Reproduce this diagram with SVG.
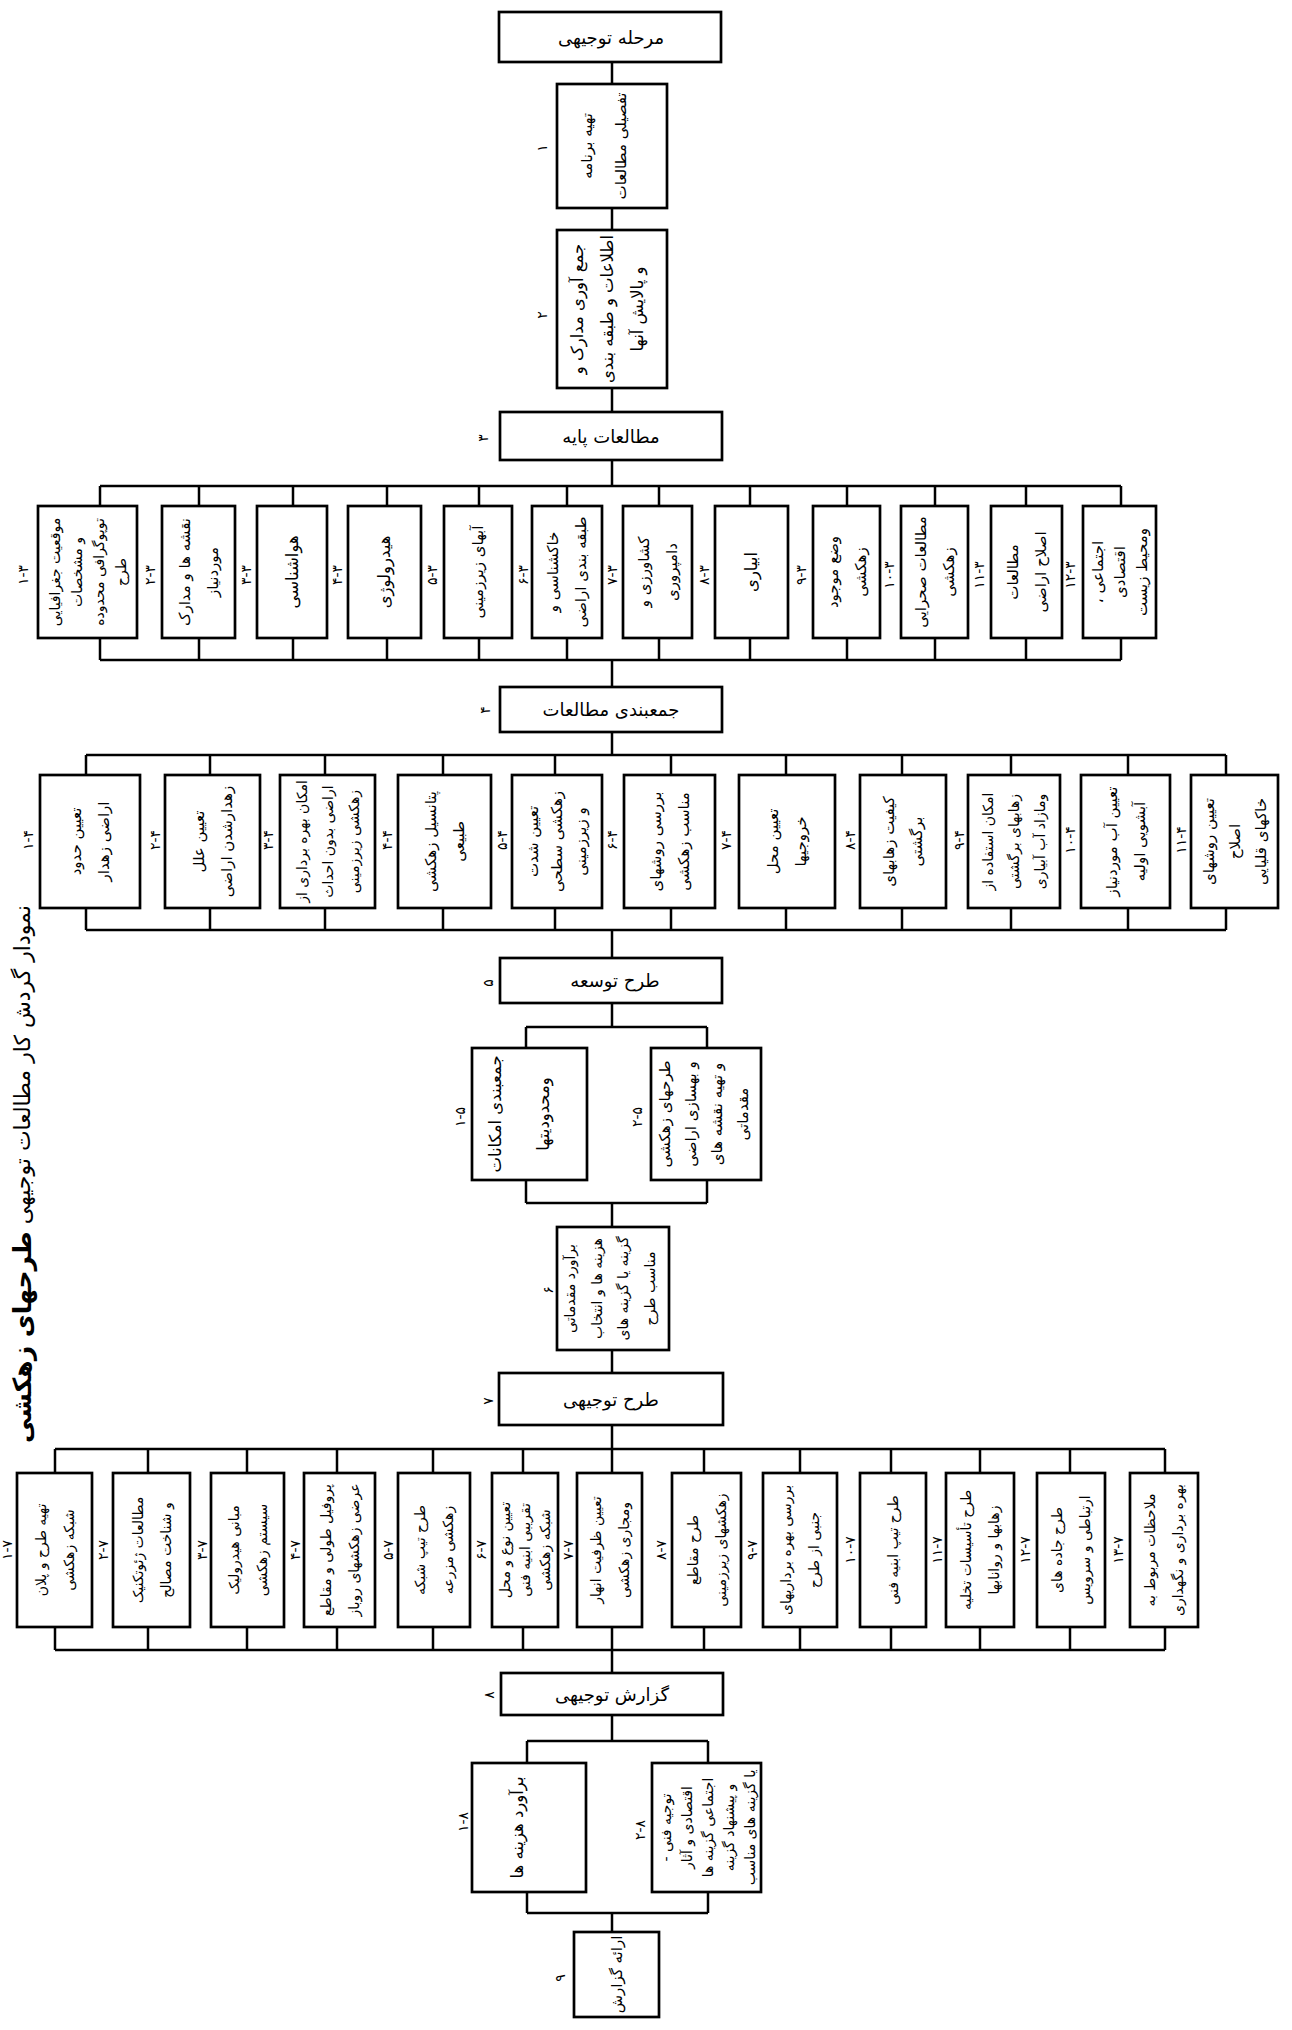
<svg xmlns="http://www.w3.org/2000/svg" width="1292" height="2030" viewBox="0 0 1292 2030">
<style>
.box{fill:#fff;stroke:#000;stroke-width:2.7}
.ln{fill:none;stroke:#000;stroke-width:2.5}
.t{font-family:"DejaVu Sans","Noto Sans",sans-serif;font-size:15px;fill:#000;text-anchor:middle;dominant-baseline:central;direction:rtl}
.s{font-size:14px}
.h{font-size:18px}
.m{font-size:16.5px}
.n{font-family:"DejaVu Sans","Noto Sans",sans-serif;font-size:14px;fill:#000;text-anchor:middle;dominant-baseline:central;direction:ltr}
.ttl{font-family:"DejaVu Sans","Noto Sans",sans-serif;font-size:22px;fill:#000;text-anchor:middle;dominant-baseline:central;direction:rtl}
</style>
<rect width="1292" height="2030" fill="#fff"/>
<g id="connectors">
<path class="ln" d="M612 62V84M612 208V230M612 388V412M612 460V486"/>
<path class="ln" d="M100 486H1121M100 486V506M199 486V506M293 486V506M387 486V506M479 486V506M567 486V506M659 486V506M750 486V506M847 486V506M935 486V506M1026 486V506M1121 486V506"/>
<path class="ln" d="M100 660H1121M100 638V660M199 638V660M293 638V660M387 638V660M479 638V660M567 638V660M659 638V660M750 638V660M847 638V660M935 638V660M1026 638V660M1121 638V660M612 660V687"/>
<path class="ln" d="M612 732V755M86 755H1226M86 755V775M210 755V775M325 755V775M443 755V775M555 755V775M671 755V775M786 755V775M902 755V775M1011 755V775M1128 755V775M1226 755V775"/>
<path class="ln" d="M86 930H1226M86 908V930M210 908V930M325 908V930M443 908V930M555 908V930M671 908V930M786 908V930M902 908V930M1011 908V930M1128 908V930M1226 908V930M612 930V958"/>
<path class="ln" d="M612 1003V1027M526 1027H707M526 1027V1048M707 1027V1048M526 1180V1203M707 1180V1203M526 1203H707M612 1203V1227M612 1350V1373"/>
<path class="ln" d="M612 1425V1449M55 1449H1165M55 1449V1473M148 1449V1473M247 1449V1473M337 1449V1473M433 1449V1473M523 1449V1473M612 1449V1473M704 1449V1473M800 1449V1473M891 1449V1473M980 1449V1473M1070 1449V1473M1165 1449V1473"/>
<path class="ln" d="M55 1650H1165M55 1627V1650M148 1627V1650M247 1627V1650M337 1627V1650M433 1627V1650M523 1627V1650M612 1627V1650M704 1627V1650M800 1627V1650M891 1627V1650M980 1627V1650M1070 1627V1650M1165 1627V1650M612 1650V1673"/>
<path class="ln" d="M612 1715V1741M527 1741H708M527 1741V1763M708 1741V1763M527 1892V1913M708 1892V1913M527 1913H708M612 1913V1932"/>
</g>

<g id="title"><text class="ttl" transform="translate(22 1174) rotate(-90)">نمودار گردش کار مطالعات توجیهی <tspan font-weight="bold" font-size="25">طرحهای زهکشی</tspan></text></g>

<g id="n0"><rect class="box" x="499" y="12" width="222" height="50"/><text class="t h" x="611" y="37">مرحله توجیهی</text></g>
<g id="n1"><rect class="box" x="557" y="84" width="110" height="124"/><text class="t" transform="translate(604 146) rotate(-90)"><tspan x="0" y="-17">تهیه برنامه</tspan><tspan x="0" y="17">تفصیلی مطالعات</tspan></text><text class="n" transform="translate(542 148) rotate(-90)">۱</text></g>
<g id="n2"><rect class="box" x="557" y="230" width="110" height="158"/><text class="t m" transform="translate(607 309) rotate(-90)"><tspan x="0" y="-30">جمع آوری مدارک و</tspan><tspan x="0" y="0">اطلاعات و طبقه بندی</tspan><tspan x="0" y="30">و پالایش آنها</tspan></text><text class="n" transform="translate(542 315) rotate(-90)">۲</text></g>
<g id="n3"><rect class="box" x="500" y="412" width="222" height="48"/><text class="t h" x="611" y="436">مطالعات پایه</text><text class="n" transform="translate(483 438) rotate(-90)">۳</text></g>

<g id="n3-1"><rect class="box" x="38" y="506" width="99" height="132"/><text class="t s" transform="translate(87.5 572) rotate(-90)"><tspan x="0" y="-33">موقعیت جغرافیایی</tspan><tspan x="0" y="-11">و مشخصات</tspan><tspan x="0" y="11">توپوگرافی محدوده</tspan><tspan x="0" y="33">طرح</tspan></text><text class="n" transform="translate(23 575) rotate(-90)">۱-۳</text></g>
<g id="n3-2"><rect class="box" x="162" y="506" width="73" height="132"/><text class="t" transform="translate(198.5 572) rotate(-90)"><tspan x="0" y="-14">نقشه ها و مدارک</tspan><tspan x="0" y="14">موردنیاز</tspan></text><text class="n" transform="translate(150 575) rotate(-90)">۲-۳</text></g>
<g id="n3-3"><rect class="box" x="257" y="506" width="70" height="132"/><text class="t m" transform="translate(292 572) rotate(-90)">هواشناسی</text><text class="n" transform="translate(246 575) rotate(-90)">۳-۳</text></g>
<g id="n3-4"><rect class="box" x="348" y="506" width="73" height="132"/><text class="t m" transform="translate(384.5 572) rotate(-90)">هیدرولوژی</text><text class="n" transform="translate(337 575) rotate(-90)">۴-۳</text></g>
<g id="n3-5"><rect class="box" x="444" y="506" width="68" height="132"/><text class="t" transform="translate(478 572) rotate(-90)">آبهای زیرزمینی</text><text class="n" transform="translate(432 575) rotate(-90)">۵-۳</text></g>
<g id="n3-6"><rect class="box" x="532" y="506" width="70" height="132"/><text class="t" transform="translate(567 572) rotate(-90)"><tspan x="0" y="-14">خاکشناسی و</tspan><tspan x="0" y="14">طبقه بندی اراضی</tspan></text><text class="n" transform="translate(523 575) rotate(-90)">۶-۳</text></g>
<g id="n3-7"><rect class="box" x="623" y="506" width="69" height="132"/><text class="t" transform="translate(657.5 572) rotate(-90)"><tspan x="0" y="-14">کشاورزی و</tspan><tspan x="0" y="14">دامپروری</tspan></text><text class="n" transform="translate(612 575) rotate(-90)">۷-۳</text></g>
<g id="n3-8"><rect class="box" x="715" y="506" width="73" height="132"/><text class="t m" transform="translate(751.5 572) rotate(-90)">ابیاری</text><text class="n" transform="translate(704 575) rotate(-90)">۸-۳</text></g>
<g id="n3-9"><rect class="box" x="813" y="506" width="67" height="132"/><text class="t" transform="translate(846.5 572) rotate(-90)"><tspan x="0" y="-14">وضع موجود</tspan><tspan x="0" y="14">زهکشی</tspan></text><text class="n" transform="translate(801 575) rotate(-90)">۹-۳</text></g>
<g id="n3-10"><rect class="box" x="901" y="506" width="67" height="132"/><text class="t" transform="translate(934.5 572) rotate(-90)"><tspan x="0" y="-14">مطالعات صحرایی</tspan><tspan x="0" y="14">زهکشی</tspan></text><text class="n" transform="translate(889 575) rotate(-90)">۱۰-۳</text></g>
<g id="n3-11"><rect class="box" x="991" y="506" width="71" height="132"/><text class="t" transform="translate(1026.5 572) rotate(-90)"><tspan x="0" y="-14">مطالعات</tspan><tspan x="0" y="14">اصلاح اراضی</tspan></text><text class="n" transform="translate(979 575) rotate(-90)">۱۱-۳</text></g>
<g id="n3-12"><rect class="box" x="1083" y="506" width="73" height="132"/><text class="t" transform="translate(1119.5 572) rotate(-90)"><tspan x="0" y="-22">اجتماعی ،</tspan><tspan x="0" y="0">اقتصادی</tspan><tspan x="0" y="22">ومحیط زیست</tspan></text><text class="n" transform="translate(1070 575) rotate(-90)">۱۲-۳</text></g>

<g id="n4"><rect class="box" x="500" y="687" width="222" height="45"/><text class="t h" x="611" y="709">جمعبندی مطالعات</text><text class="n" transform="translate(485 710) rotate(-90)">۴</text></g>

<g id="n4-1"><rect class="box" x="40" y="775" width="100" height="133"/><text class="t" transform="translate(90 841.5) rotate(-90)"><tspan x="0" y="-14">تعیین حدود</tspan><tspan x="0" y="14">اراضی زهدار</tspan></text><text class="n" transform="translate(28 840) rotate(-90)">۱-۴</text></g>
<g id="n4-2"><rect class="box" x="165" y="775" width="95" height="133"/><text class="t" transform="translate(212.5 841.5) rotate(-90)"><tspan x="0" y="-14">تعیین علل</tspan><tspan x="0" y="14">زهدارشدن اراضی</tspan></text><text class="n" transform="translate(155 840) rotate(-90)">۲-۴</text></g>
<g id="n4-3"><rect class="box" x="280" y="775" width="95" height="133"/><text class="t s" transform="translate(327.5 841.5) rotate(-90)"><tspan x="0" y="-26">امکان بهره برداری از</tspan><tspan x="0" y="0">اراضی بدون احداث</tspan><tspan x="0" y="26">زهکشی زیرزمینی</tspan></text><text class="n" transform="translate(268 840) rotate(-90)">۳-۴</text></g>
<g id="n4-4"><rect class="box" x="398" y="775" width="93" height="133"/><text class="t" transform="translate(444.5 841.5) rotate(-90)"><tspan x="0" y="-14">پتانسیل زهکشی</tspan><tspan x="0" y="14">طبیعی</tspan></text><text class="n" transform="translate(387 840) rotate(-90)">۴-۴</text></g>
<g id="n4-5"><rect class="box" x="512" y="775" width="90" height="133"/><text class="t" transform="translate(557 841.5) rotate(-90)"><tspan x="0" y="-24">تعیین شدت</tspan><tspan x="0" y="0">زهکشی سطحی</tspan><tspan x="0" y="24">و زیرزمینی</tspan></text><text class="n" transform="translate(502 840) rotate(-90)">۵-۴</text></g>
<g id="n4-6"><rect class="box" x="624" y="775" width="91" height="133"/><text class="t" transform="translate(669.5 841.5) rotate(-90)"><tspan x="0" y="-14">بررسی روشهای</tspan><tspan x="0" y="14">مناسب زهکشی</tspan></text><text class="n" transform="translate(612 840) rotate(-90)">۶-۴</text></g>
<g id="n4-7"><rect class="box" x="739" y="775" width="96" height="133"/><text class="t" transform="translate(787 841.5) rotate(-90)"><tspan x="0" y="-14">تعیین محل</tspan><tspan x="0" y="14">خروجیها</tspan></text><text class="n" transform="translate(726 840) rotate(-90)">۷-۴</text></g>
<g id="n4-8"><rect class="box" x="860" y="775" width="86" height="133"/><text class="t" transform="translate(903 841.5) rotate(-90)"><tspan x="0" y="-14">کیفیت زهابهای</tspan><tspan x="0" y="14">برگشتی</tspan></text><text class="n" transform="translate(850 840) rotate(-90)">۸-۴</text></g>
<g id="n4-9"><rect class="box" x="968" y="775" width="92" height="133"/><text class="t s" transform="translate(1014 841.5) rotate(-90)"><tspan x="0" y="-26">امکان استفاده از</tspan><tspan x="0" y="0">زهابهای برگشتی</tspan><tspan x="0" y="26">ومازاد آب آبیاری</tspan></text><text class="n" transform="translate(959 840) rotate(-90)">۹-۴</text></g>
<g id="n4-10"><rect class="box" x="1081" y="775" width="89" height="133"/><text class="t" transform="translate(1125.5 841.5) rotate(-90)"><tspan x="0" y="-14">تعیین آب موردنیاز</tspan><tspan x="0" y="14">آبشویی اولیه</tspan></text><text class="n" transform="translate(1070 840) rotate(-90)">۱۰-۴</text></g>
<g id="n4-11"><rect class="box" x="1191" y="775" width="87" height="133"/><text class="t" transform="translate(1234.5 841.5) rotate(-90)"><tspan x="0" y="-26">تعیین روشهای</tspan><tspan x="0" y="0">اصلاح</tspan><tspan x="0" y="26">خاکهای قلیایی</tspan></text><text class="n" transform="translate(1181 840) rotate(-90)">۱۱-۴</text></g>

<g id="n5"><rect class="box" x="500" y="958" width="222" height="45"/><text class="t h" x="615" y="980">طرح توسعه</text><text class="n" transform="translate(488 983) rotate(-90)">۵</text></g>
<g id="n5-1"><rect class="box" x="472" y="1048" width="115" height="132"/><text class="t m" transform="translate(519 1114) rotate(-90)"><tspan x="0" y="-24">جمعبندی امکانات</tspan><tspan x="0" y="24">ومحدودیتها</tspan></text><text class="n" transform="translate(460 1117) rotate(-90)">۱-۵</text></g>
<g id="n5-2"><rect class="box" x="651" y="1048" width="110" height="132"/><text class="t" transform="translate(704 1114) rotate(-90)"><tspan x="0" y="-39">طرحهای زهکشی</tspan><tspan x="0" y="-13">و بهسازی اراضی</tspan><tspan x="0" y="13">و تهیه نقشه های</tspan><tspan x="0" y="39">مقدماتی</tspan></text><text class="n" transform="translate(637 1117) rotate(-90)">۲-۵</text></g>
<g id="n6"><rect class="box" x="557" y="1227" width="112" height="123"/><text class="t s" transform="translate(610 1288.5) rotate(-90)"><tspan x="0" y="-40">برآورد مقدماتی</tspan><tspan x="0" y="-13">هزینه ها و انتخاب</tspan><tspan x="0" y="13">گزینه یا گزینه های</tspan><tspan x="0" y="40">مناسب طرح</tspan></text><text class="n" transform="translate(548 1290) rotate(-90)">۶</text></g>

<g id="n7"><rect class="box" x="499" y="1373" width="224" height="52"/><text class="t h" x="611" y="1399">طرح توجیهی</text><text class="n" transform="translate(488 1401) rotate(-90)">۷</text></g>

<g id="n7-1"><rect class="box" x="17" y="1473" width="75" height="154"/><text class="t s" transform="translate(54.5 1550) rotate(-90)"><tspan x="0" y="-14">تهیه طرح و پلان</tspan><tspan x="0" y="14">شبکه زهکشی</tspan></text><text class="n" transform="translate(7 1550) rotate(-90)">۱-۷</text></g>
<g id="n7-2"><rect class="box" x="113" y="1473" width="77" height="154"/><text class="t s" transform="translate(151.5 1550) rotate(-90)"><tspan x="0" y="-14">مطالعات ژئوتکنیک</tspan><tspan x="0" y="14">و شناخت مصالح</tspan></text><text class="n" transform="translate(103 1550) rotate(-90)">۲-۷</text></g>
<g id="n7-3"><rect class="box" x="211" y="1473" width="73" height="154"/><text class="t s" transform="translate(247.5 1550) rotate(-90)"><tspan x="0" y="-14">مبانی هیدرولیک</tspan><tspan x="0" y="14">سیستم زهکشی</tspan></text><text class="n" transform="translate(202 1550) rotate(-90)">۳-۷</text></g>
<g id="n7-4"><rect class="box" x="304" y="1473" width="71" height="154"/><text class="t s" transform="translate(339.5 1550) rotate(-90)"><tspan x="0" y="-14">پروفیل طولی و مقاطع</tspan><tspan x="0" y="14">عرضی زهکشهای روباز</tspan></text><text class="n" transform="translate(295 1550) rotate(-90)">۴-۷</text></g>
<g id="n7-5"><rect class="box" x="398" y="1473" width="72" height="154"/><text class="t s" transform="translate(434 1550) rotate(-90)"><tspan x="0" y="-14">طرح تیپ شبکه</tspan><tspan x="0" y="14">زهکشی مزرعه</tspan></text><text class="n" transform="translate(388 1550) rotate(-90)">۵-۷</text></g>
<g id="n7-6"><rect class="box" x="492" y="1473" width="66" height="154"/><text class="t s" transform="translate(525 1550) rotate(-90)"><tspan x="0" y="-20">تعیین نوع و محل</tspan><tspan x="0" y="0">تقریبی ابنیه فنی</tspan><tspan x="0" y="20">شبکه زهکشی</tspan></text><text class="n" transform="translate(481 1550) rotate(-90)">۶-۷</text></g>
<g id="n7-7"><rect class="box" x="577" y="1473" width="65" height="154"/><text class="t s" transform="translate(609.5 1550) rotate(-90)"><tspan x="0" y="-14">تعیین ظرفیت انهار</tspan><tspan x="0" y="14">ومجاری زهکشی</tspan></text><text class="n" transform="translate(568 1550) rotate(-90)">۷-۷</text></g>
<g id="n7-8"><rect class="box" x="672" y="1473" width="69" height="154"/><text class="t s" transform="translate(706.5 1550) rotate(-90)"><tspan x="0" y="-14">طرح مقاطع</tspan><tspan x="0" y="14">زهکشهای زیرزمینی</tspan></text><text class="n" transform="translate(661 1550) rotate(-90)">۸-۷</text></g>
<g id="n7-9"><rect class="box" x="763" y="1473" width="74" height="154"/><text class="t s" transform="translate(800 1550) rotate(-90)"><tspan x="0" y="-14">بررسی بهره برداریهای</tspan><tspan x="0" y="14">جنبی از طرح</tspan></text><text class="n" transform="translate(752 1550) rotate(-90)">۹-۷</text></g>
<g id="n7-10"><rect class="box" x="860" y="1473" width="66" height="154"/><text class="t s" transform="translate(893 1550) rotate(-90)">طرح تیپ ابنیه فنی</text><text class="n" transform="translate(850 1550) rotate(-90)">۱۰-۷</text></g>
<g id="n7-11"><rect class="box" x="946" y="1473" width="68" height="154"/><text class="t s" transform="translate(980 1550) rotate(-90)"><tspan x="0" y="-14">طرح تأسیسات تخلیه</tspan><tspan x="0" y="14">زهابها و روانابها</tspan></text><text class="n" transform="translate(937 1550) rotate(-90)">۱۱-۷</text></g>
<g id="n7-12"><rect class="box" x="1037" y="1473" width="68" height="154"/><text class="t s" transform="translate(1071 1550) rotate(-90)"><tspan x="0" y="-14">طرح جاده های</tspan><tspan x="0" y="14">ارتباطی و سرویس</tspan></text><text class="n" transform="translate(1025 1550) rotate(-90)">۱۲-۷</text></g>
<g id="n7-13"><rect class="box" x="1130" y="1473" width="68" height="154"/><text class="t s" transform="translate(1164 1550) rotate(-90)"><tspan x="0" y="-14">ملاحظات مربوط به</tspan><tspan x="0" y="14">بهره برداری و نگهداری</tspan></text><text class="n" transform="translate(1118 1550) rotate(-90)">۱۳-۷</text></g>

<g id="n8"><rect class="box" x="501" y="1673" width="222" height="42"/><text class="t h" x="612" y="1694">گزارش توجیهی</text><text class="n" transform="translate(489 1695) rotate(-90)">۸</text></g>
<g id="n8-1"><rect class="box" x="472" y="1763" width="114" height="129"/><text class="t m" transform="translate(517 1827.5) rotate(-90)">برآورد هزینه ها</text><text class="n" transform="translate(463 1822) rotate(-90)">۱-۸</text></g>
<g id="n8-2"><rect class="box" x="652" y="1763" width="109" height="129"/><text class="t s" transform="translate(708 1827.5) rotate(-90)"><tspan x="0" y="-42">توجیه فنی -</tspan><tspan x="0" y="-21">اقتصادی و آثار</tspan><tspan x="0" y="0">اجتماعی گزینه ها</tspan><tspan x="0" y="21">و پیشنهاد گزینه</tspan><tspan x="0" y="42">یا گزینه های مناسب</tspan></text><text class="n" transform="translate(640 1830) rotate(-90)">۲-۸</text></g>
<g id="n9"><rect class="box" x="574" y="1932" width="85" height="85"/><text class="t" transform="translate(616.5 1974.5) rotate(-90)">ارائه گزارش</text><text class="n" transform="translate(560 1978) rotate(-90)">۹</text></g>
</svg>
